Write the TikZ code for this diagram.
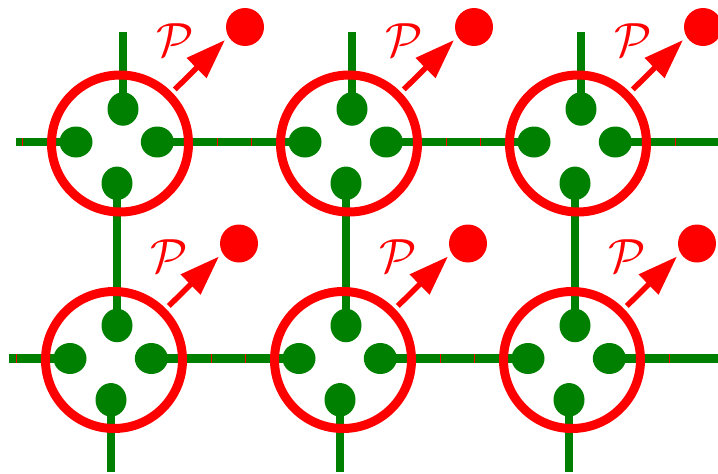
\documentclass[tikz,border=0pt]{standalone}
\usetikzlibrary{shapes.geometric,arrows.meta}
\definecolor{leaf}{RGB}{0,128,0}
\pgfdeclarelayer{bg}
\pgfsetlayers{bg,main}
\begin{document}
\begin{tikzpicture}[x=1pt,y=-1pt,
  bond/.style={leaf, line width=8.5pt},
  site/.style={ellipse, fill=leaf, inner sep=0pt, outer sep=0pt},
  hsite/.style={site, minimum width=33pt, minimum height=31pt},
  vsite/.style={site, minimum width=31pt, minimum height=33.5pt},
  halo/.style={circle, draw=red, line width=9pt, minimum size=137pt, inner sep=0pt, outer sep=0pt},
  ball/.style={circle, fill=red, minimum size=38pt, inner sep=0pt},
  proj/.style={red, line width=5.5pt, -{Triangle[length=40pt,width=27pt]}, shorten <=8.5pt},
  lab/.style={text=red, scale=4.8, inner sep=0pt},
  redtick/.style={red, line width=0.8pt}]
\useasboundingbox (0,0) rectangle (718,474);

% lattice cells: four sites inside a ring, with a projection arrow
\foreach \j in {0,1} \foreach \i in {0,1,2} {
  \pgfmathsetmacro\cx{120+229*\i-6*\j}
  \pgfmathsetmacro\cy{143.5+216.5*\j}
  \node[hsite] (l\i\j) at (\cx-44,\cy-1.5) {};
  \node[hsite] (r\i\j) at (\cx+37.3,\cy-1.5) {};
  \node[vsite] (t\i\j) at (\cx+3,\cy-34.5) {};
  \node[vsite] (b\i\j) at (\cx-3,\cy+39.8) {};
  \node[halo] (halo\i\j) at (\cx,\cy) {};
  \node[ball] (ball\i\j) at (\cx+125,\cy-116.5) {};
  \coordinate (tip\i\j) at (\cx+105,\cy-103.5);
  \draw[proj] (halo\i\j) -- (tip\i\j);
  \node[lab] (P\i\j) at (\cx+55.5,\cy-103.5) {$\mathcal{P}$};
  \draw[redtick] (\cx-97.5,\cy-5.7) -- (\cx-97.5,\cy+2.7);
  \draw[redtick] (\cx+97.5,\cy-5.7) -- (\cx+97.5,\cy+2.7);
}

% free ends of the bonds
\coordinate (w0) at (16,142);
\coordinate (w1) at (9,358.5);
\coordinate (e0) at (718,142);
\coordinate (e1) at (718,358.5);
\foreach \i in {0,1,2} {
  \pgfmathsetmacro\nx{123+229*\i}
  \pgfmathsetmacro\sx{111+229*\i}
  \coordinate (n\i) at (\nx,32);
  \coordinate (s\i) at (\sx,472);
}

% bonds, drawn beneath the sites
\begin{pgfonlayer}{bg}
  \foreach \j in {0,1} {
    \draw[bond] (w\j) -- (l0\j.center);
    \draw[bond] (r0\j.center) -- (l1\j.center);
    \draw[bond] (r1\j.center) -- (l2\j.center);
    \draw[bond] (r2\j.center) -- (e\j);
  }
  \foreach \i in {0,1,2} {
    \draw[bond] (n\i) -- (t\i0.center);
    \draw[bond] (b\i0.center) -- (t\i1.center);
    \draw[bond] (b\i1.center) -- (s\i);
  }
\end{pgfonlayer}
\end{tikzpicture}
\end{document}
